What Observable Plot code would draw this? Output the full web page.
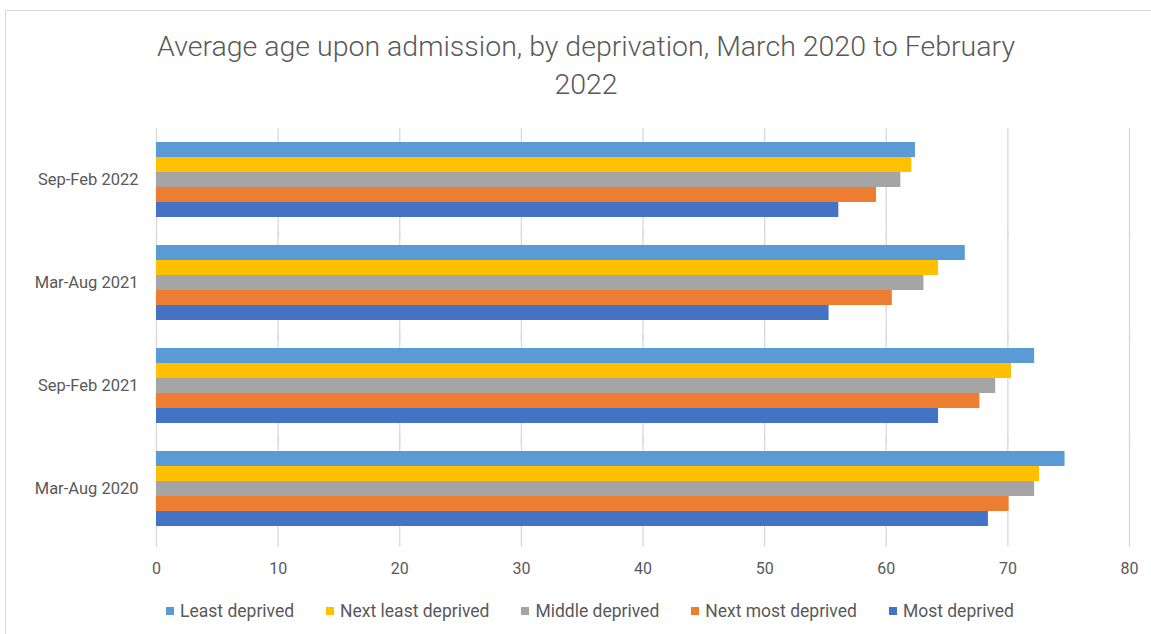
<!DOCTYPE html>
<html>
<head>
<meta charset="utf-8">
<script src="https://cdn.jsdelivr.net/npm/d3@7"></script>
<script src="https://cdn.jsdelivr.net/npm/@observablehq/plot@0.6"></script>
<style>
  body { margin: 0; background: #fff; font-family: Roboto, "Liberation Sans", sans-serif; }
  #frame { position: absolute; left: 5px; top: 10px; width: 1150px; height: 630px; border: 1px solid #d9d9d9; box-sizing: border-box; }
  #title { position: absolute; left: 0; top: 28px; width: 1172px; text-align: center; color: #595959; font-size: 28.5px; line-height: 38px; font-weight: 300; }
  #chart { position: absolute; left: 0; top: 110px; }
  #legend { position: absolute; left: 0; top: 601px; width: 1180px; display: flex; justify-content: center; gap: 32px; color: #595959; font-size: 17.5px; }
  .item { display: flex; align-items: center; gap: 6px; }
  .sw { width: 8px; height: 8px; display: inline-block; }
</style>
</head>
<body>
<div id="frame"></div>
<div id="title">Average age upon admission, by deprivation, March 2020 to February<br>2022</div>
<div id="chart"></div>
<div id="legend"></div>
<script>
const periods = ["Sep-Feb 2022", "Mar-Aug 2021", "Sep-Feb 2021", "Mar-Aug 2020"];
const series = ["Least deprived", "Next least deprived", "Middle deprived", "Next most deprived", "Most deprived"];
const colors = ["#5B9BD5", "#FFC000", "#A5A5A5", "#ED7D31", "#4472C4"];
// values per series, in the order of periods
const leastDeprived     = [62.4, 66.5, 72.2, 74.7];
const nextLeastDeprived = [62.1, 64.3, 70.3, 72.6];
const middleDeprived    = [61.2, 63.1, 69.0, 72.2];
const nextMostDeprived  = [59.2, 60.5, 67.7, 70.1];
const mostDeprived      = [56.1, 55.3, 64.3, 68.4];
const xTicks = [0, 10, 20, 30, 40, 50, 60, 70, 80];

const seriesValues = [leastDeprived, nextLeastDeprived, middleDeprived, nextMostDeprived, mostDeprived];
const data = [];
periods.forEach((p, i) => series.forEach((s, j) => data.push({period: p, series: s, value: seriesValues[j][i]})));

const plot = Plot.plot({
  width: 1151,
  height: 480,
  marginTop: 18,
  marginBottom: 50,
  marginLeft: 156,
  marginRight: 22,
  style: {fontFamily: "Roboto, 'Liberation Sans', sans-serif", fontSize: "16px", color: "#595959", overflow: "visible"},
  x: {domain: [0, 80], ticks: xTicks, label: null},
  y: {domain: series, padding: 0, axis: null},
  fy: {domain: periods, paddingInner: 0.27, paddingOuter: 0.135, label: null},
  color: {domain: series, range: colors},
  marks: [
    Plot.gridX(xTicks, {stroke: "#d9d9d9", strokeOpacity: 1, strokeWidth: 1.3, insetTop: -14.2, insetBottom: -20.5}),
    Plot.axisX(xTicks, {tickSize: 0, stroke: "#d9d9d9", fill: "#595959", fontSize: 16, label: null, tickPadding: 36}),
    Plot.axisFy({anchor: "left", tickSize: 0, tickPadding: 18, fill: "#595959", fontSize: 16.5, label: null}),
    Plot.barX(data, {x: "value", y: "series", fy: "period", fill: "series", insetTop: 0, insetBottom: 0})
  ]
});
document.getElementById("chart").appendChild(plot);

const legend = document.getElementById("legend");
series.forEach((s, i) => {
  const it = document.createElement("div");
  it.className = "item";
  const sw = document.createElement("span");
  sw.className = "sw";
  sw.style.background = colors[i];
  it.appendChild(sw);
  const t = document.createElement("span");
  t.textContent = s;
  it.appendChild(t);
  legend.appendChild(it);
});
</script>
</body>
</html>
